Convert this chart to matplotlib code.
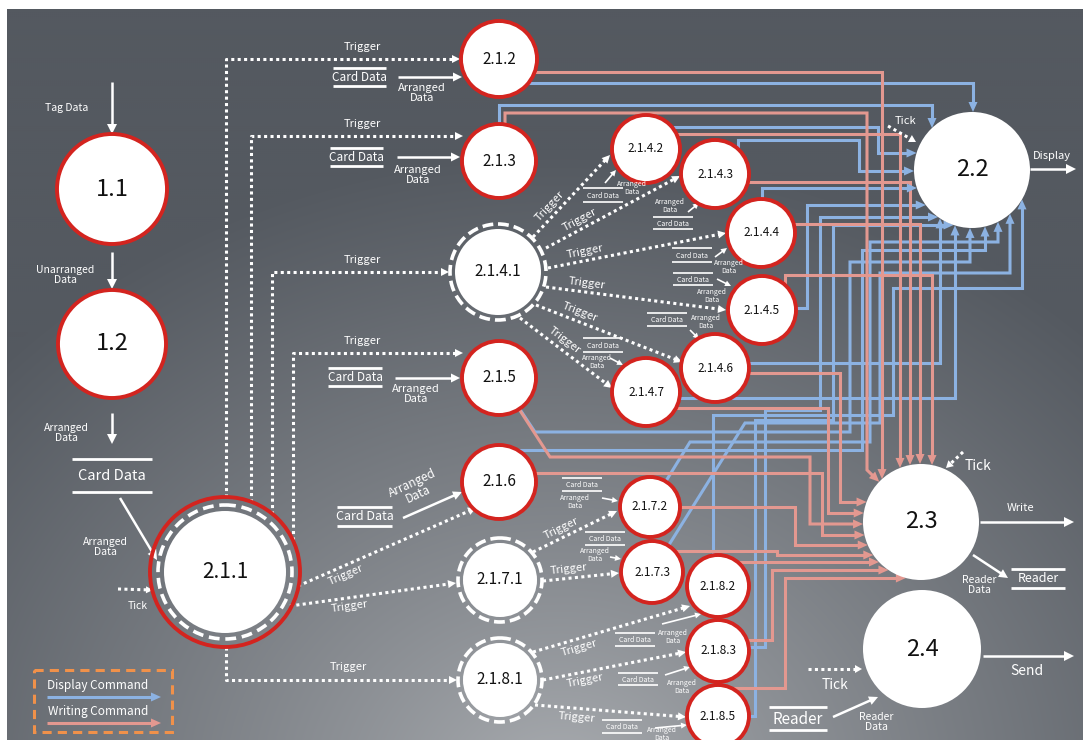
import numpy as np
import matplotlib
matplotlib.use('Agg')
import matplotlib.pyplot as plt
from matplotlib.patches import Circle, Polygon, Rectangle

plt.rcParams['font.family'] = ['Noto Sans CJK KR', 'DejaVu Sans']

W, H = 1083, 740

# ---------------- diagram content ----------------
level1_nodes = ['1.1', '1.2']
hub_nodes = ['2.1.1', '2.1.4.1', '2.1.7.1', '2.1.8.1']
worker_nodes = ['2.1.2', '2.1.3', '2.1.4.2', '2.1.4.3', '2.1.4.4', '2.1.4.5',
                '2.1.4.6', '2.1.4.7', '2.1.5', '2.1.6', '2.1.7.2', '2.1.7.3',
                '2.1.8.2', '2.1.8.3', '2.1.8.5']
output_nodes = ['2.2', '2.3', '2.4']

# 2.1.1 triggers these through the dotted bus on the left
bus_triggers = ['2.1.2', '2.1.3', '2.1.4.1', '2.1.5', '2.1.8.1']
# direct dotted trigger arrows
fan_triggers = [('2.1.4.1', '2.1.4.2'), ('2.1.4.1', '2.1.4.3'), ('2.1.4.1', '2.1.4.4'),
                ('2.1.4.1', '2.1.4.5'), ('2.1.4.1', '2.1.4.6'), ('2.1.4.1', '2.1.4.7'),
                ('2.1.1', '2.1.6'), ('2.1.1', '2.1.7.1'),
                ('2.1.7.1', '2.1.7.2'), ('2.1.7.1', '2.1.7.3'),
                ('2.1.8.1', '2.1.8.2'), ('2.1.8.1', '2.1.8.3'), ('2.1.8.1', '2.1.8.5')]
# every worker sends a display command to 2.2 and a writing command to 2.3
display_cmd = [(w, '2.2') for w in worker_nodes]
writing_cmd = [(w, '2.3') for w in worker_nodes]

legend_items = ['Display Command', 'Writing Command']

# ---------------- layout (pixels) ----------------
POS = {
    '1.1': (112, 189, 55), '1.2': (112, 344, 54),
    '2.1.1': (225, 572, 75),
    '2.1.2': (499, 59, 38), '2.1.3': (499, 161, 37),
    '2.1.4.1': (498, 272, 48),
    '2.1.4.2': (646, 149, 34), '2.1.4.3': (715, 174, 34), '2.1.4.4': (761, 233, 34),
    '2.1.4.5': (762, 310, 34), '2.1.4.6': (715, 368, 34), '2.1.4.7': (646, 392, 34),
    '2.1.5': (499, 378, 37), '2.1.6': (499, 482, 37),
    '2.1.7.1': (500, 580, 42), '2.1.7.2': (650, 507, 30), '2.1.7.3': (652, 572, 31),
    '2.1.8.1': (500, 680, 42), '2.1.8.2': (718, 586, 31), '2.1.8.3': (718, 651, 31),
    '2.1.8.5': (718, 716, 31),
    '2.2': (972, 170, 58), '2.3': (921, 522, 58), '2.4': (922, 649, 59),
}
FS = {'1.1': 17, '1.2': 17, '2.1.1': 15, '2.2': 17, '2.3': 17, '2.4': 17,
      '2.1.4.1': 11, '2.1.7.1': 11, '2.1.8.1': 11,
      '2.1.2': 11, '2.1.3': 11, '2.1.5': 11, '2.1.6': 11}

BUS = {  # (vertical x, horizontal y, end x, label y)
    '2.1.2': (226, 59, 460), '2.1.3': (251, 136, 463),
    '2.1.4.1': (272, 272, 449), '2.1.5': (293, 353, 463),
}
FAN = {  # start, end, label position along line, side (+1 above / -1 below)
    ('2.1.4.1', '2.1.4.2'): ((533, 237), (610, 155), 0.30, 1),
    ('2.1.4.1', '2.1.4.3'): ((546, 248), (680, 176), 0.28, 1),
    ('2.1.4.1', '2.1.4.4'): ((548, 268), (726, 233), 0.22, 1),
    ('2.1.4.1', '2.1.4.5'): ((546, 287), (726, 310), 0.22, 1),
    ('2.1.4.1', '2.1.4.6'): ((536, 305), (682, 362), 0.28, 1),
    ('2.1.4.1', '2.1.4.7'): ((520, 318), (612, 388), 0.42, 1),
    ('2.1.1', '2.1.6'): ((298, 586), (476, 508), 0.25, -1),
    ('2.1.1', '2.1.7.1'): ((290, 606), (456, 583), 0.35, -1),
    ('2.1.7.1', '2.1.7.2'): ((533, 552), (617, 511), 0.38, 1),
    ('2.1.7.1', '2.1.7.3'): ((543, 581), (619, 573), 0.35, 1),
    ('2.1.8.1', '2.1.8.2'): ((533, 652), (690, 606), 0.28, -1),
    ('2.1.8.1', '2.1.8.3'): ((543, 680), (686, 652), 0.28, -1),
    ('2.1.8.1', '2.1.8.5'): ((535, 705), (686, 717), 0.28, -1),
}
BLUE_ROUTE = {
    '2.1.2': [(499, 83), (973, 83), (973, 170)],
    '2.1.3': [(499, 161), (499, 105), (932, 105), (932, 170)],
    '2.1.4.2': [(646, 127), (878, 127), (878, 153), (972, 153)],
    '2.1.4.3': [(738, 174), (738, 140), (859, 140), (859, 171), (972, 171)],
    '2.1.4.4': [(762, 233), (762, 188), (972, 188)],
    '2.1.4.5': [(762, 308), (807, 308), (807, 205), (972, 205)],
    '2.1.4.6': [(715, 363), (940, 363), (940, 170)],
    '2.1.4.7': [(646, 398), (955, 398), (955, 170)],
    '2.1.5': [(499, 378), (535, 432), (850, 432), (850, 262), (970, 262), (970, 170)],
    '2.1.6': [(499, 450), (862, 450), (862, 250), (985, 250), (985, 170)],
    '2.1.7.2': [(650, 507), (690, 442), (870, 442), (870, 242), (998, 242), (998, 170)],
    '2.1.7.3': [(652, 572), (745, 423), (880, 423), (880, 273), (1010, 273), (1010, 170)],
    '2.1.8.2': [(713, 586), (713, 415), (893, 415), (893, 288), (1022, 288), (1022, 170)],
    '2.1.8.3': [(718, 647), (765, 647), (765, 410), (820, 410), (820, 217), (972, 217)],
    '2.1.8.5': [(718, 716), (755, 716), (755, 420), (833, 420), (833, 225), (972, 225)],
}
RED_ROUTE = {
    '2.1.2': [(499, 72), (882, 72), (882, 522)],
    '2.1.3': [(505, 161), (505, 113), (867, 113), (867, 470), (921, 522)],
    '2.1.4.2': [(646, 134), (900, 134), (900, 522)],
    '2.1.4.3': [(715, 182), (910, 182), (910, 522)],
    '2.1.4.4': [(761, 224), (920, 224), (920, 522)],
    '2.1.4.5': [(785, 310), (785, 275), (932, 275), (932, 522)],
    '2.1.4.6': [(715, 373), (840, 373), (840, 502), (921, 502)],
    '2.1.4.7': [(646, 408), (828, 408), (828, 513), (921, 513)],
    '2.1.5': [(499, 378), (550, 457), (810, 457), (810, 524), (921, 524)],
    '2.1.6': [(499, 473), (822, 473), (822, 535), (921, 535)],
    '2.1.7.2': [(650, 507), (795, 507), (795, 545), (921, 545)],
    '2.1.7.3': [(652, 551), (777, 551), (777, 555), (921, 555)],
    '2.1.8.2': [(718, 562), (921, 562)],
    '2.1.8.3': [(718, 640), (772, 640), (772, 570), (921, 570)],
    '2.1.8.5': [(718, 688), (785, 688), (785, 578), (921, 578)],
}
# small "Card Data" stores: x0, x1, y top, y bottom, font size
STORES = [
    (72, 152, 459, 492, 'Card Data', 10.5), (333, 386, 68, 86, 'Card Data', 8.5),
    (330, 383, 148, 166, 'Card Data', 8.5), (328, 382, 368, 386, 'Card Data', 8.5),
    (337, 392, 507, 526, 'Card Data', 9),
    (583, 623, 188, 202, 'Card Data', 5), (653, 693, 217, 229, 'Card Data', 5),
    (672, 712, 248, 262, 'Card Data', 5), (673, 713, 273, 285, 'Card Data', 5),
    (647, 687, 313, 326, 'Card Data', 5), (583, 623, 338, 352, 'Card Data', 5),
    (562, 602, 478, 491, 'Card Data', 5), (585, 625, 532, 545, 'Card Data', 5),
    (615, 655, 633, 646, 'Card Data', 5), (618, 658, 673, 685, 'Card Data', 5),
    (602, 642, 720, 733, 'Card Data', 5),
    (1011, 1065, 569, 588, 'Reader', 9), (769, 827, 707, 730, 'Reader', 11),
]
# "Arranged Data" arrows: start, end, label xy, font size, rotation
ARRANGED = [
    ((398, 77), (462, 77), (422, 93), 8, 0), ((397, 157), (460, 157), (418, 175), 8, 0),
    ((395, 378), (460, 378), (416, 394), 8, 0), ((403, 518), (462, 492), (415, 489), 8.5, 25),
    ((605, 183), (616, 170), (632, 188), 5, 0), ((688, 212), (699, 203), (670, 206), 5, 0),
    ((715, 257), (727, 248), (729, 267), 5, 0), ((717, 279), (731, 286), (712, 296), 5, 0),
    ((690, 330), (699, 339), (706, 322), 5, 0), ((610, 358), (623, 365), (597, 362), 5, 0),
    ((602, 498), (618, 501), (575, 502), 5, 0), ((610, 557), (621, 559), (595, 555), 5, 0),
    ((662, 624), (701, 614), (673, 637), 5, 0), ((665, 675), (690, 667), (682, 687), 5, 0),
    ((655, 728), (687, 725), (662, 734), 5, 0),
]

BLUE = '#8cb2e2'
RED = '#e39890'
RING = '#d3241f'

fig = plt.figure(figsize=(W / 100, H / 100), dpi=100)
ax = fig.add_axes([0, 0, 1, 1])
ax.set_xlim(0, W)
ax.set_ylim(H, 0)
ax.axis('off')
fig.patch.set_facecolor('white')

# background gradient
yy, xx = np.mgrid[9:H:2, 7:W:2]
d = np.sqrt(((xx - 560) / 760.0) ** 2 + ((yy - 790) / 640.0) ** 2)
t = np.clip(d, 0, 1) ** 0.85
light = np.array([172, 175, 179]) / 255.0
dark = np.array([84, 89, 96]) / 255.0
img = light[None, None, :] * (1 - t[..., None]) + dark[None, None, :] * t[..., None]
ax.imshow(img, extent=(7, W, H, 9), aspect='auto', zorder=0, interpolation='bilinear')


def unit(a, b):
    v = np.array(b, float) - np.array(a, float)
    return v / np.hypot(*v)


def head(tip, frm, color, L=9, w=4.5, z=4):
    u = unit(frm, tip)
    n = np.array([-u[1], u[0]])
    tip = np.array(tip, float)
    base = tip - u * L
    ax.add_patch(Polygon([tip, base + n * w, base - n * w], closed=True,
                         facecolor=color, edgecolor='none', zorder=z))


def arrow(pts, color='white', lw=1.8, dotted=False, L=9, w=4.5, z=3):
    pts = [np.array(p, float) for p in pts]
    tip, prev = pts[-1], pts[-2]
    u = unit(prev, tip)
    line = pts[:-1] + [tip - u * L * 0.7]
    xs = [p[0] for p in line]
    ys = [p[1] for p in line]
    if dotted:
        ax.plot(xs, ys, color=color, lw=2.2, ls=(0, (1, 1.1)), dash_capstyle='butt', zorder=z)
    else:
        ax.plot(xs, ys, color=color, lw=lw, solid_capstyle='butt', solid_joinstyle='miter', zorder=z)
    head(tip, prev, color, L, w, z + 1)


def txt(x, y, s, fs, color='white', rot=0, **kw):
    ax.text(x, y, s, fontsize=fs, color=color, rotation=rot, ha='center', va='center',
            rotation_mode='anchor', linespacing=0.95, zorder=8, **kw)


def to_circle(p0, p1, node):
    cx, cy, r = POS[node]
    p0 = np.array(p0, float)
    dv = np.array(p1, float) - p0
    f = p0 - np.array([cx, cy])
    a = dv @ dv
    b = 2 * f @ dv
    c = f @ f - r * r
    tt = (-b - np.sqrt(b * b - 4 * a * c)) / (2 * a)
    return p0 + tt * dv


def store(x0, x1, y0, y1, s, fs):
    lw = 2.0 if fs > 8 else 1.2
    ax.plot([x0, x1], [y0, y0], color='white', lw=lw, zorder=6, solid_capstyle='butt')
    ax.plot([x0, x1], [y1, y1], color='white', lw=lw, zorder=6, solid_capstyle='butt')
    txt((x0 + x1) / 2, (y0 + y1) / 2 + 0.5, s, fs)


# command connectors (behind nodes)
for src, dst in display_cmd:
    r = BLUE_ROUTE[src]
    pts = r[:-1] + [tuple(to_circle(r[-2], r[-1], dst))]
    arrow(pts, BLUE, lw=2.2, L=10, w=4.5, z=2)
for src, dst in writing_cmd:
    r = RED_ROUTE[src]
    pts = r[:-1] + [tuple(to_circle(r[-2], r[-1], dst))]
    arrow(pts, RED, lw=2.2, L=10, w=4.5, z=2)

# nodes
for name in level1_nodes + worker_nodes + hub_nodes + output_nodes:
    x, y, r = POS[name]
    if name == '2.1.1':
        ax.add_patch(Circle((x, y), r, facecolor='none', edgecolor=RING, lw=2.8, zorder=5))
        ax.add_patch(Circle((x, y), r - 8, facecolor='none', edgecolor='white', lw=2.6,
                            ls=(0, (3, 1.6)), zorder=5))
        ax.add_patch(Circle((x, y), r - 14, facecolor='white', edgecolor='none', zorder=5))
    elif name in hub_nodes:
        ax.add_patch(Circle((x, y), r, facecolor='none', edgecolor='white', lw=2.6,
                            ls=(0, (3, 1.4)), zorder=5))
        ax.add_patch(Circle((x, y), r - 5, facecolor='white', edgecolor='none', zorder=5))
    elif name in output_nodes:
        ax.add_patch(Circle((x, y), r, facecolor='white', edgecolor='none', zorder=5))
    else:
        ax.add_patch(Circle((x, y), r, facecolor='white', edgecolor=RING, lw=2.8, zorder=5))
    txt(x, y, name, FS.get(name, 8.5), color='#111111')

# trigger bus from 2.1.1
cx, cy, cr = POS['2.1.1']
for name in bus_triggers:
    if name == '2.1.8.1':
        arrow([(226, cy + cr), (226, 680), (457, 680)], dotted=True, L=8, w=4)
        txt(348, 667, 'Trigger', 8)
        continue
    vx, hy, ex = BUS[name]
    y0 = cy - np.sqrt(cr ** 2 - (vx - cx) ** 2)
    arrow([(vx, y0), (vx, hy), (ex, hy)], dotted=True, L=8, w=4)
    txt(362, hy - 12, 'Trigger', 8)

for key in fan_triggers:
    p0, p1, tf, side = FAN[key]
    p0 = np.array(p0, float)
    p1 = np.array(p1, float)
    arrow([p0, p1], dotted=True, L=8, w=4)
    u = unit(p0, p1)
    n = np.array([u[1], -u[0]])
    if n[1] > 0:
        n = -n
    pos = p0 + (p1 - p0) * tf + n * 9 * side
    ang = np.degrees(np.arctan2(-(p1[1] - p0[1]), p1[0] - p0[0]))
    txt(pos[0], pos[1], 'Trigger', 8, rot=ang)

# stores and "Arranged Data" flows
for x0, x1, y0, y1, s, fs in STORES:
    store(x0, x1, y0, y1, s, fs)
for p0, p1, lp, fs, rot in ARRANGED:
    small = fs < 6
    arrow([p0, p1], lw=1.2 if small else 1.8, L=6 if small else 9, w=3 if small else 4.5)
    txt(lp[0], lp[1], 'Arranged\nData', fs, rot=rot)

# level 1 column
arrow([(112, 82), (112, 134)], L=10, w=5)
txt(67, 108, 'Tag Data', 7.5)
arrow([(112, 252), (112, 289)], L=10, w=5)
txt(65, 275, 'Unarranged\nData', 7.5)
arrow([(112, 413), (112, 444)], L=10, w=5)
txt(66, 433, 'Arranged\nData', 7.5)
arrow([(120, 498), (157, 560)], L=10, w=5)
txt(105, 547, 'Arranged\nData', 7.5)
arrow([(118, 589), (153, 590)], dotted=True, L=7, w=3.5)
txt(138, 606, 'Tick', 7.5)

# outputs
arrow([(888, 126), (916, 142)], dotted=True, L=7, w=4)
txt(906, 121, 'Tick', 8)
arrow([(1030, 169), (1076, 169)], L=10, w=5)
txt(1052, 156, 'Display', 8)
arrow([(963, 452), (946, 468)], dotted=True, L=7, w=4)
txt(978, 466, 'Tick', 10)
arrow([(980, 522), (1074, 522)], L=10, w=5)
txt(1021, 508, 'Write', 8)
arrow([(973, 555), (1008, 578)], L=9, w=4.5)
txt(979, 585, 'Reader\nData', 7.5)
arrow([(983, 656), (1074, 656)], L=10, w=5)
txt(1027, 671, 'Send', 10)
arrow([(808, 669), (862, 669)], dotted=True, L=7, w=4)
txt(835, 685, 'Tick', 10)
arrow([(833, 717), (878, 697)], L=9, w=4.5)
txt(876, 722, 'Reader\nData', 7.5)

# legend box
ax.add_patch(Rectangle((34, 670), 138, 62, facecolor='none', edgecolor='#f0914a',
                       lw=2.2, ls=(0, (3, 2)), zorder=7))
txt(98, 685, legend_items[0], 8.5)
arrow([(47, 697), (161, 697)], BLUE, lw=2.2, L=10, w=4.5)
txt(98, 711, legend_items[1], 8.5)
arrow([(47, 723), (161, 723)], RED, lw=2.2, L=10, w=4.5)

fig.savefig('out.png', dpi=100)
